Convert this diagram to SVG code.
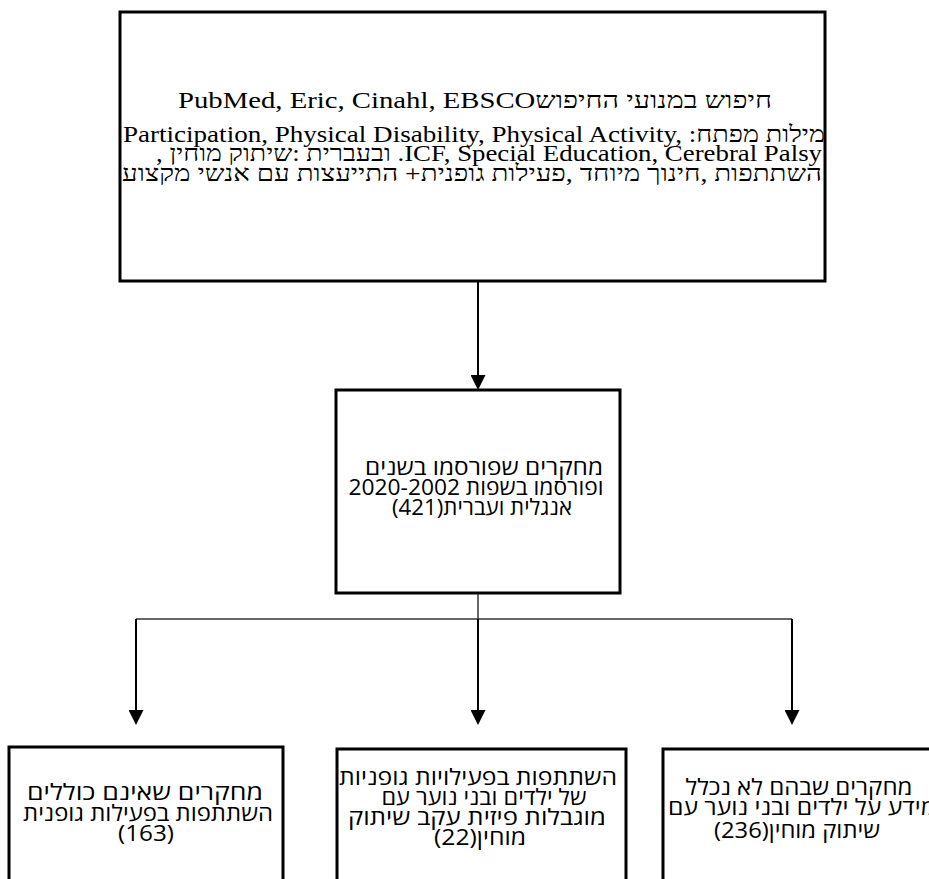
<svg xmlns="http://www.w3.org/2000/svg" width="929" height="879" viewBox="0 0 929 879">
<style>
.box{fill:#fff;stroke:#000;stroke-width:3}
.con{fill:none;stroke:#000;stroke-width:2}
.thin{fill:none;stroke:#333;stroke-width:1.5}
.top{font-family:"Liberation Serif","DejaVu Serif",serif;font-size:23px;fill:#000}
.heb{font-family:"Open Sans","DejaVu Sans",sans-serif;font-size:22px;fill:#000}
</style>
<defs>
<marker id="ah" markerUnits="userSpaceOnUse" markerWidth="16" markerHeight="15" refX="5" refY="7.5" orient="auto">
<path d="M0,0 L15,7.5 L0,15 z" fill="#000"/>
</marker>
</defs>
<g id="search">
<rect class="box" x="120" y="12" width="705" height="269"/>
<text class="top" x="475" y="108" text-anchor="middle" direction="rtl" textLength="594" lengthAdjust="spacingAndGlyphs">חיפוש במנועי החיפושPubMed, Eric, Cinahl, EBSCO</text>
<text class="top" x="474" y="142" text-anchor="middle" direction="rtl" textLength="702" lengthAdjust="spacingAndGlyphs">מילות מפתח: Participation, Physical Disability, Physical Activity,&#x200E;</text>
<text class="top" x="489" y="161" text-anchor="middle" direction="rtl" textLength="666" lengthAdjust="spacingAndGlyphs">ICF, Special Education, Cerebral Palsy. ובעברית :שיתוק מוחין ,</text>
<text class="top" x="472" y="181" text-anchor="middle" direction="rtl" textLength="700" lengthAdjust="spacingAndGlyphs">השתתפות ,חינוך מיוחד ,פעילות גופנית+ התייעצות עם אנשי מקצוע</text>
</g>
<g id="published">
<rect class="box" x="336" y="390" width="284" height="203"/>
<text class="heb" x="484" y="475" text-anchor="middle" direction="rtl" textLength="238" lengthAdjust="spacingAndGlyphs">מחקרים שפורסמו בשנים</text>
<text class="heb" x="476" y="495" text-anchor="middle" direction="rtl" textLength="255" lengthAdjust="spacingAndGlyphs">ופורסמו בשפות 2020-2002</text>
<text class="heb" x="482" y="515" text-anchor="middle" direction="rtl" textLength="180" lengthAdjust="spacingAndGlyphs">אנגלית ועברית(421)</text>
</g>
<g id="no-participation">
<rect class="box" x="9" y="747" width="274" height="150"/>
<text class="heb" x="145" y="800" text-anchor="middle" direction="rtl" textLength="236" lengthAdjust="spacingAndGlyphs">מחקרים שאינם כוללים</text>
<text class="heb" x="148" y="821" text-anchor="middle" direction="rtl" textLength="250" lengthAdjust="spacingAndGlyphs">השתתפות בפעילות גופנית</text>
<text class="heb" x="146" y="841" text-anchor="middle" direction="rtl" textLength="56" lengthAdjust="spacingAndGlyphs">(163)</text>
</g>
<g id="participation-cp">
<rect class="box" x="337" y="749" width="289" height="150"/>
<text class="heb" x="478" y="785" text-anchor="middle" direction="rtl" textLength="278" lengthAdjust="spacingAndGlyphs">השתתפות בפעילויות גופניות</text>
<text class="heb" x="484" y="805" text-anchor="middle" direction="rtl" textLength="205" lengthAdjust="spacingAndGlyphs">של ילדים ובני נוער עם</text>
<text class="heb" x="477" y="825" text-anchor="middle" direction="rtl" textLength="258" lengthAdjust="spacingAndGlyphs">מוגבלות פיזית עקב שיתוק</text>
<text class="heb" x="480" y="845" text-anchor="middle" direction="rtl" textLength="92" lengthAdjust="spacingAndGlyphs">מוחין(22)</text>
</g>
<g id="no-cp">
<rect class="box" x="663" y="749" width="280" height="150"/>
<text class="heb" x="799" y="795" text-anchor="middle" direction="rtl" textLength="227" lengthAdjust="spacingAndGlyphs">מחקרים שבהם לא נכלל</text>
<text class="heb" x="802" y="815" text-anchor="middle" direction="rtl" textLength="268" lengthAdjust="spacingAndGlyphs">מידע על ילדים ובני נוער עם</text>
<text class="heb" x="797" y="838" text-anchor="middle" direction="rtl" textLength="166" lengthAdjust="spacingAndGlyphs">שיתוק מוחין(236)</text>
</g>
<g id="connectors">
<path class="con" d="M478,282 V380" marker-end="url(#ah)"/>
<path class="thin" d="M478,594 V619"/>
<path class="thin" d="M136,619 H792"/>
<path class="con" d="M136,619 V715" marker-end="url(#ah)"/>
<path class="con" d="M478,619 V715" marker-end="url(#ah)"/>
<path class="con" d="M792,619 V715" marker-end="url(#ah)"/>
</g>
</svg>
